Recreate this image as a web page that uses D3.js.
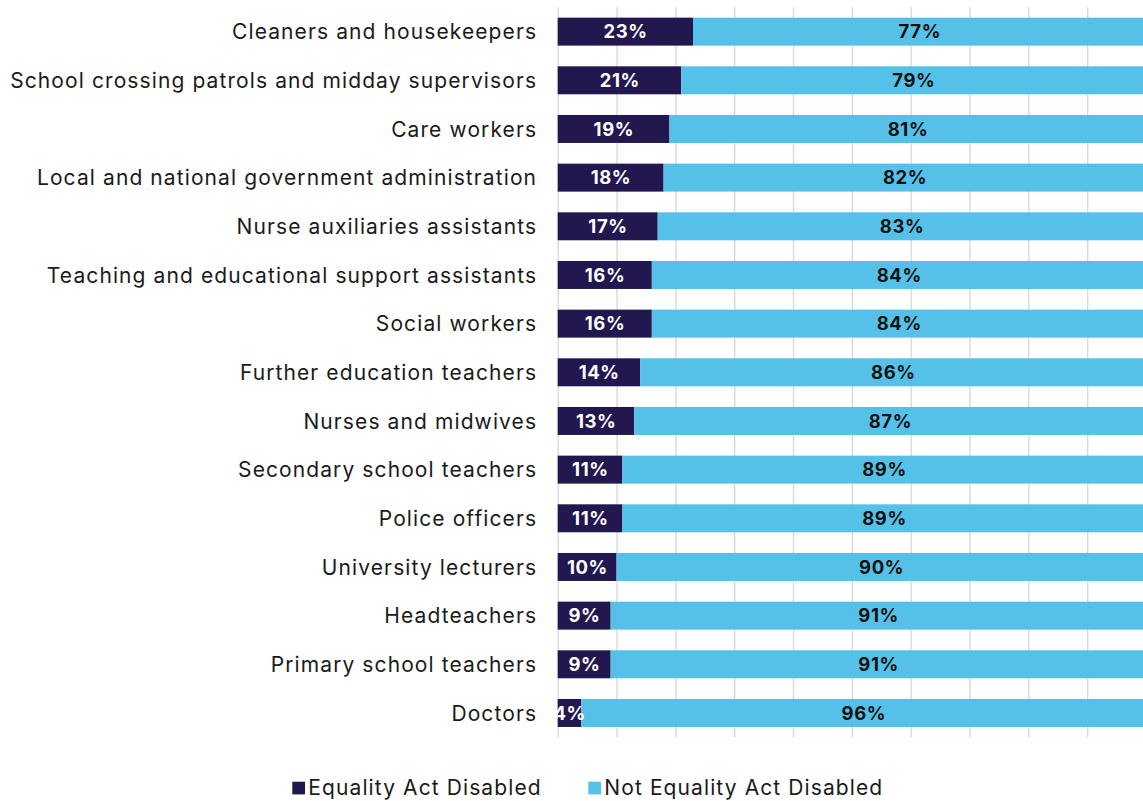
<!DOCTYPE html>
<html>
<head>
<meta charset="utf-8">
<script src="https://cdn.jsdelivr.net/npm/d3@7"></script>
<style>
  html, body { margin: 0; padding: 0; background: #ffffff; }
  svg { display: block; font-family: Inter, "Noto Sans", sans-serif; }
</style>
</head>
<body>
<svg id="chart" width="1143" height="801"></svg>
<script>
// Occupations, top to bottom
const occupations = [
  "Cleaners and housekeepers",
  "School crossing patrols and midday supervisors",
  "Care workers",
  "Local and national government administration",
  "Nurse auxiliaries assistants",
  "Teaching and educational support assistants",
  "Social workers",
  "Further education teachers",
  "Nurses and midwives",
  "Secondary school teachers",
  "Police officers",
  "University lecturers",
  "Headteachers",
  "Primary school teachers",
  "Doctors"
];

// Share of workers (%) in each group
const disabled    = [23, 21, 19, 18, 17, 16, 16, 14, 13, 11, 11, 10, 9, 9, 4];
const notDisabled = [77, 79, 81, 82, 83, 84, 84, 86, 87, 89, 89, 90, 91, 91, 96];

const seriesNames = ["Equality Act Disabled", "Not Equality Act Disabled"];
const xTicks = [0, 10, 20, 30, 40, 50, 60, 70, 80, 90, 100];

const colors = { dark: "#22174f", light: "#56c1e8" };
const tracking = 1.1;

const svg = d3.select("#chart");

const x = d3.scaleLinear().domain([0, 100]).range([557.7, 1146]);
const y = d3.scaleBand()
  .domain(occupations)
  .range([7.3, 737.3])
  .paddingInner(0.425)
  .paddingOuter(0.2125);

// Vertical gridlines
svg.append("g")
  .attr("class", "grid")
  .call(d3.axisBottom(x).tickValues(xTicks).tickSize(y.range()[1] - y.range()[0]).tickFormat(""))
  .attr("transform", `translate(0,${y.range()[0]})`)
  .call(g => g.select(".domain").remove())
  .call(g => g.selectAll(".tick line").attr("stroke", "#d9d9d9").attr("stroke-width", 1.4));

// Stacked data
const rows = occupations.map((o, i) => ({ name: o, a: disabled[i], b: notDisabled[i] }));
const stack = d3.stack().keys(["a", "b"])(rows);
const fills = [colors.dark, colors.light];
const textFills = ["#ffffff", "#111111"];

const layers = svg.append("g").selectAll("g")
  .data(stack)
  .join("g")
  .attr("fill", (d, i) => fills[i]);

layers.selectAll("rect")
  .data(d => d)
  .join("rect")
  .attr("x", d => x(d[0]))
  .attr("y", d => y(d.data.name))
  .attr("width", d => x(d[1]) - x(d[0]))
  .attr("height", y.bandwidth());

// Value labels, drawn above every bar
const labels = svg.append("g");
stack.forEach((layer, i) => {
  labels.selectAll(null)
    .data(layer)
    .join("text")
    .attr("x", d => (x(d[0]) + x(d[1])) / 2 + 0.3)
    .attr("y", d => y(d.data.name) + y.bandwidth() / 2)
    .attr("dy", "0.36em")
    .attr("text-anchor", "middle")
    .attr("font-size", 18.5)
    .attr("font-weight", 700)
    .attr("letter-spacing", 0.6)
    .attr("fill", textFills[i])
    .text(d => `${d[1] - d[0]}%`);
});

// Category axis labels
const yAxis = svg.append("g")
  .attr("transform", `translate(${536 + tracking},0)`)
  .call(d3.axisLeft(y).tickSize(0).tickPadding(0));
yAxis.select(".domain").remove();
yAxis.selectAll("text")
  .attr("font-family", "Inter, 'Noto Sans', sans-serif")
  .attr("font-size", 21)
  .attr("letter-spacing", tracking)
  .attr("fill", "#1a1a1a")
  .attr("dy", "0.36em");

// Legend
const legendItems = [
  { name: seriesNames[0], color: colors.dark, x: 292.3 },
  { name: seriesNames[1], color: colors.light, x: 588.3 }
];
const legend = svg.append("g").selectAll("g")
  .data(legendItems)
  .join("g")
  .attr("transform", d => `translate(${d.x},781.7)`);
legend.append("rect")
  .attr("width", 12.7)
  .attr("height", 12.7)
  .attr("fill", d => d.color);
legend.append("text")
  .attr("x", 16)
  .attr("y", 12.9)
  .attr("font-size", 21)
  .attr("letter-spacing", tracking)
  .attr("fill", "#1a1a1a")
  .text(d => d.name);
</script>
</body>
</html>
